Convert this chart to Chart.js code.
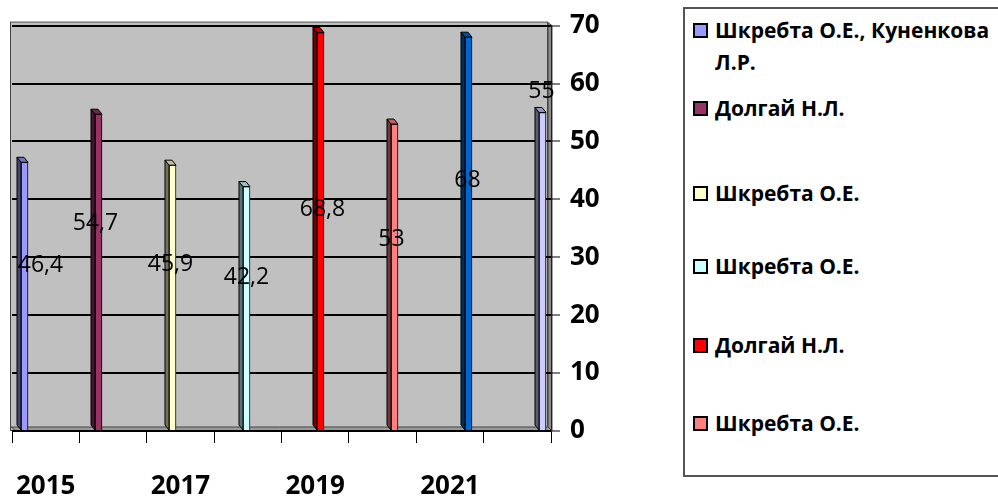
<!DOCTYPE html>
<html>
<head>
<meta charset="utf-8">
<script src="https://cdn.jsdelivr.net/npm/chart.js@4.4.0/dist/chart.umd.min.js"></script>
<style>
body{margin:0;background:#fff;width:998px;height:497px;overflow:hidden;position:relative;font-family:'Open Sans',sans-serif}
#wrap{position:absolute;left:0;top:0;width:683px;height:497px}
#legend{position:absolute;left:683px;top:7px;width:340px;height:470px;border:2px solid #555;overflow:hidden;box-sizing:border-box}
.item{position:absolute;left:8px;width:320px;display:flex;align-items:flex-start;font-weight:700;font-size:21px;line-height:32px;color:#000}
.sw{width:11px;height:11px;border:2px solid #000;margin-top:9px;margin-right:7px;flex:none}
</style>
</head>
<body>
<div id="wrap"><canvas id="chart"></canvas></div>
<div id="legend"></div>
<script>
// data
const years = ['2015', '2016', '2017', '2018', '2019', '2020', '2021', '2022']
const authors = ['Шкребта О.Е., Куненкова Л.Р.', 'Долгай Н.Л.', 'Шкребта О.Е.', 'Шкребта О.Е.', 'Долгай Н.Л.', 'Шкребта О.Е.', 'Долгай Н.Л.', 'Шкребта О.Е.']
const scores = [46.4, 54.7, 45.9, 42.2, 68.8, 53, 68, 55]

// looks
const fills = ['#9999FF', '#993366', '#FFFFCC', '#CCFFFF', '#FF0000', '#FF8080', '#0066CC', '#CCCCFF']
const labelLevel = [28.5, 35.8, 28.7, 26.5, 38.2, 33, 43.3, 58.6]
const labelDx = [16, -3, -2, 0, 2, -3, -1, -1]
const legendTops = [5, 83, 168, 241, 320, 398, 476, 554]
const bold = {family: 'Open Sans', size: 26, weight: 'bold'}

const shade = (hex, f)=>{
    const n = parseInt(hex.slice(1), 16)
    const c = [n >> 16, (n >> 8) & 255, n & 255].map(v => Math.round(v * f))
    return `rgb(${c[0]},${c[1]},${c[2]})`
}

const wallPlugin = {
    id: 'wall',
    beforeDraw(chart){
        const {ctx, chartArea: a} = chart
        ctx.save()
        ctx.fillStyle = '#c0c0c0'
        ctx.fillRect(a.left - 1, a.top - 3, a.right - a.left - 2, a.bottom - a.top + 3)
        ctx.strokeStyle = '#444'
        ctx.lineWidth = 1
        ctx.strokeRect(a.left - 1.5, a.top - 3.5, a.right - a.left - 2, a.bottom - a.top + 3)
        // right side wall
        ctx.fillStyle = '#8c8c8c'
        ctx.beginPath()
        ctx.moveTo(a.right - 3, a.top - 3)
        ctx.lineTo(a.right + 1, a.top)
        ctx.lineTo(a.right + 1, a.bottom)
        ctx.lineTo(a.right - 3, a.bottom - 4)
        ctx.closePath()
        ctx.fill()
        ctx.stroke()
        // floor
        ctx.fillStyle = '#9a9a9a'
        ctx.beginPath()
        ctx.moveTo(a.left - 1, a.bottom - 4)
        ctx.lineTo(a.right - 3, a.bottom - 4)
        ctx.lineTo(a.right + 1, a.bottom)
        ctx.lineTo(a.left + 4, a.bottom)
        ctx.closePath()
        ctx.fill()
        ctx.stroke()
        ctx.restore()
    }
}

const barsPlugin = {
    id: 'bars3d',
    afterDatasetsDraw(chart){
        const ctx = chart.ctx
        ctx.save()
        ctx.strokeStyle = '#000'
        ctx.lineWidth = 1
        chart.data.datasets.forEach((ds, i)=>{
            chart.getDatasetMeta(i).data.forEach(bar=>{
                const {x, y, base, width} = bar.getProps(['x', 'y', 'base', 'width'], true)
                const l = x - width / 2, r = x + width / 2
                ctx.fillStyle = shade(fills[i], 0.45)
                ctx.beginPath()
                ctx.moveTo(l, y); ctx.lineTo(l - 4, y - 5); ctx.lineTo(l - 4, base - 5); ctx.lineTo(l, base)
                ctx.closePath(); ctx.fill(); ctx.stroke()
                ctx.fillStyle = shade(fills[i], 0.75)
                ctx.beginPath()
                ctx.moveTo(l, y); ctx.lineTo(r, y); ctx.lineTo(r - 4, y - 5); ctx.lineTo(l - 4, y - 5)
                ctx.closePath(); ctx.fill(); ctx.stroke()
            })
        })
        // value labels
        const yScale = chart.scales.y
        ctx.fillStyle = '#000'
        ctx.font = '23px "Open Sans"'
        ctx.textAlign = 'center'
        ctx.textBaseline = 'middle'
        chart.data.datasets.forEach((ds, i)=>{
            const bar = chart.getDatasetMeta(i).data[0]
            ctx.fillText(String(scores[i]).replace('.', ','), bar.x + labelDx[i], yScale.getPixelForValue(labelLevel[i]))
        })
        ctx.restore()
    }
}

const legendPlugin = {
    id: 'htmlLegend',
    afterUpdate(chart){
        const box = document.querySelector('#legend')
        box.innerHTML = ''
        chart.data.datasets.forEach((ds, i)=>{
            const item = document.createElement('div')
            item.className = 'item'
            item.style.top = legendTops[i] + 'px'
            const sw = document.createElement('span')
            sw.className = 'sw'
            sw.style.background = ds.backgroundColor
            const txt = document.createElement('span')
            txt.textContent = ds.label
            item.appendChild(sw)
            item.appendChild(txt)
            box.appendChild(item)
        })
    }
}

const Data = authors.map((name, i)=>({
    label: name,
    data: [{x: i, y: scores[i]}],
    backgroundColor: fills[i],
    borderColor: '#000',
    borderWidth: 1,
    barThickness: 7,
    grouped: false,
    xAxisID: 'xb',
    yAxisID: 'y'
}))

const myChart = new Chart(document.querySelector('#chart'), {
    type: 'bar',
    data: {datasets: Data},
    plugins: [wallPlugin, barsPlugin, legendPlugin],
    options: {
        responsive: true,
        maintainAspectRatio: false,
        animation: false,
        layout: {padding: {left: 12, top: 19, right: 0, bottom: 0}},
        plugins: {legend: {display: false}, tooltip: {enabled: false}},
        scales: {
            xb: {type: 'linear', axis: 'x', display: false, offset: false, min: -0.169, max: 7.115},
            x: {
                type: 'category',
                labels: years,
                offset: true,
                grid: {offset: true, drawOnChartArea: false, color: '#000', tickLength: 12},
                border: {color: '#000', width: 1},
                ticks: {
                    autoSkip: false, maxRotation: 0, padding: 28, color: '#000', font: bold,
                    callback: (v, i)=> i % 2 ? '' : years[i]
                },
                afterFit: s=>{ s.height = 66; s.paddingLeft = 0; s.paddingRight = 0 }
            },
            y: {
                position: 'right',
                min: 0,
                max: 70,
                ticks: {stepSize: 10, padding: 10, color: '#000', font: bold},
                grid: {color: '#000', lineWidth: 2, tickColor: '#000', tickWidth: 1, tickLength: 9},
                border: {display: true, color: '#222', width: 1},
                afterFit: s=>{ s.width = 132 }
            }
        }
    }
})
</script>
</body>
</html>
